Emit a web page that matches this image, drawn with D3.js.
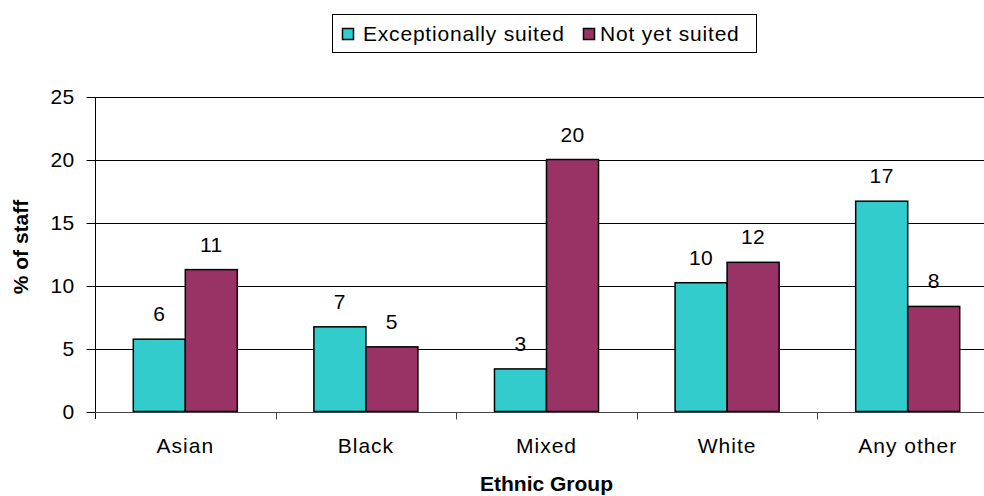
<!DOCTYPE html>
<html>
<head>
<meta charset="utf-8">
<script src="https://cdn.jsdelivr.net/npm/d3@7"></script>
<style>
  html, body { margin: 0; padding: 0; background: #fff; }
  svg { display: block; font-family: "Liberation Sans", Arial, sans-serif; }
</style>
</head>
<body>
<svg id="chart" width="984" height="496"></svg>
<script>
// Share of staff by ethnic group, for two suitability ratings
const categories = ["Asian", "Black", "Mixed", "White", "Any other"];
const seriesNames = ["Exceptionally suited", "Not yet suited"];
const exceptionallySuited = [5.74, 6.72, 3.38, 10.22, 16.69];
const notYetSuited = [11.26, 5.13, 20.0, 11.84, 8.34];
const yTicks = [0, 5, 10, 15, 20, 25];
const colors = ["#33CCCC", "#993366"];

const seriesValues = [exceptionallySuited, notYetSuited];

const svg = d3.select("#chart");
const W = 984, H = 496;
const plot = { left: 95, right: 998, top: 96.5, bottom: 411.5 };
const FS = 21;

svg.append("rect").attr("width", W).attr("height", H).attr("fill", "#fff");

const x = d3.scaleBand().domain(categories).range([plot.left, plot.right]).padding(0);
const y = d3.scaleLinear().domain([0, 25]).range([plot.bottom, plot.top]);
const barW = x.bandwidth() * 0.288;

// horizontal gridlines
svg.append("g")
  .selectAll("line")
  .data(yTicks.filter(t => t > 0))
  .join("line")
  .attr("x1", plot.left).attr("x2", plot.right)
  .attr("y1", d => Math.round(y(d)) + 0.5).attr("y2", d => Math.round(y(d)) + 0.5)
  .attr("stroke", "#000").attr("stroke-width", 1);

// y axis
const yAxis = svg.append("g")
  .attr("transform", `translate(${plot.left + 0.5},0.5)`)
  .call(d3.axisLeft(y).tickValues(yTicks).tickSize(9).tickPadding(12).tickFormat(d3.format("d")));
yAxis.select(".domain").attr("stroke", "#000").attr("d", `M0,${plot.top}V${plot.bottom + 7}`);
yAxis.selectAll(".tick line").attr("stroke", "#000");
yAxis.selectAll(".tick text")
  .attr("font-size", FS).attr("font-family", "Liberation Sans, Arial, sans-serif")
  .attr("fill", "#000").attr("letter-spacing", "0.3px");

// bars
const groups = svg.append("g")
  .selectAll("g")
  .data(categories)
  .join("g");

seriesValues.forEach((vals, si) => {
  groups.append("rect")
    .attr("x", (d) => x(d) + x.bandwidth() / 2 - barW + si * barW)
    .attr("y", (d, i) => y(vals[i]))
    .attr("width", barW)
    .attr("height", (d, i) => y(0) - y(vals[i]))
    .attr("fill", colors[si])
    .attr("stroke", "#000")
    .attr("stroke-width", 1.5);

  groups.append("text")
    .attr("x", (d) => x(d) + x.bandwidth() / 2 - barW / 2 + si * barW)
    .attr("y", (d, i) => y(vals[i]) - 18)
    .attr("text-anchor", "middle")
    .attr("font-size", FS)
    .attr("letter-spacing", "0.4px")
    .attr("fill", "#000")
    .text((d, i) => Math.round(vals[i]));
});

// x axis baseline and category separators
const xAxis = svg.append("g")
  .attr("transform", `translate(0,${Math.round(plot.bottom) + 0.5})`)
  .call(d3.axisBottom(x).tickSize(0).tickPadding(26));
xAxis.select(".domain").attr("stroke", "#444").attr("d", `M${plot.left},0H${plot.right}`);
xAxis.selectAll(".tick text")
  .attr("font-size", FS).attr("fill", "#000").attr("letter-spacing", "1px");
xAxis.append("g")
  .selectAll("line")
  .data(categories.slice(1))
  .join("line")
  .attr("x1", d => Math.round(x(d)) + 0.5).attr("x2", d => Math.round(x(d)) + 0.5)
  .attr("y1", 0).attr("y2", 7)
  .attr("stroke", "#444");

// axis titles
svg.append("text")
  .attr("x", (plot.left + plot.right) / 2)
  .attr("y", 491)
  .attr("text-anchor", "middle")
  .attr("font-size", FS)
  .attr("font-weight", "bold")
  .text("Ethnic Group");

svg.append("text")
  .attr("transform", "translate(28,247) rotate(-90)")
  .attr("text-anchor", "middle")
  .attr("font-size", FS)
  .attr("font-weight", "bold")
  .text("% of staff");

// legend
const legend = svg.append("g");
legend.append("rect")
  .attr("x", 332.5).attr("y", 14.5).attr("width", 424).attr("height", 38)
  .attr("fill", "#fff").attr("stroke", "#000").attr("stroke-width", 1);

const legendItems = [
  { swatchX: 342, textX: 363 },
  { swatchX: 583, textX: 600 }
];
seriesNames.forEach((name, i) => {
  legend.append("rect")
    .attr("x", legendItems[i].swatchX + 0.5).attr("y", 28.5)
    .attr("width", 11).attr("height", 11)
    .attr("fill", colors[i]).attr("stroke", "#000").attr("stroke-width", 1.5);
  legend.append("text")
    .attr("x", legendItems[i].textX).attr("y", 41)
    .attr("font-size", FS)
    .attr("letter-spacing", "0.8px")
    .attr("fill", "#000")
    .text(name);
});
</script>
</body>
</html>
